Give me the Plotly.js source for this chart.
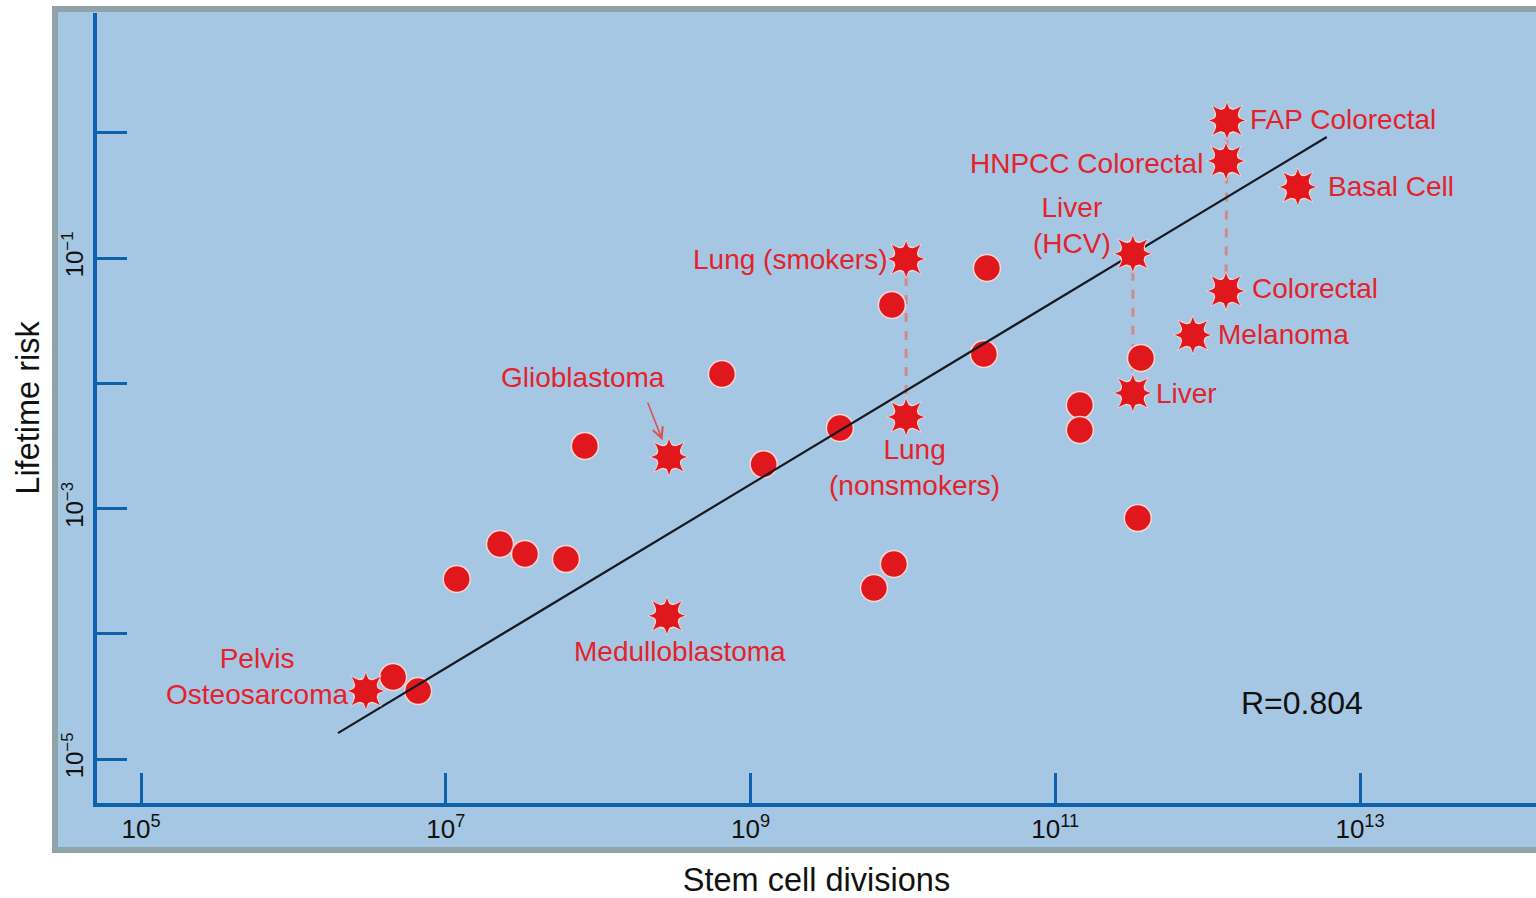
<!DOCTYPE html>
<html>
<head>
<meta charset="utf-8">
<script src="https://cdn.plot.ly/plotly-3.0.1.min.js"></script>
<style>
html,body{margin:0;padding:0;background:#fff;}
#chart{width:1536px;height:898px;}
</style>
</head>
<body>
<div id="chart"></div>
<script>
// ---- data ----
// labelled cancer types (star markers)
const starNames = ["Pelvis<br>Osteosarcoma", "Glioblastoma", "Medulloblastoma", "Lung (smokers)", "Lung<br>(nonsmokers)",
                   "Liver<br>(HCV)", "Liver", "FAP Colorectal", "HNPCC Colorectal", "Colorectal", "Basal Cell", "Melanoma"];
const starDivisions = [2.99e6, 2.92e8, 2.83e8, 1.05e10, 1.05e10, 3.23e11, 3.23e11, 1.34e12, 1.32e12, 1.32e12, 3.91e12, 8.0e11];
const starRisk      = [3.49e-5, 2.58e-3, 1.39e-4, 0.098, 5.38e-3, 0.108, 8.36e-3, 1.25, 0.594, 0.0546, 0.369, 0.0243];

// unlabelled cancer types (round markers)
const dotDivisions = [4.51e6, 6.58e6, 1.18e7, 2.27e7, 3.31e7, 6.15e7, 8.18e7, 6.49e8, 1.22e9, 3.86e9,
                      6.46e9, 8.73e9, 8.47e9, 3.56e10, 3.40e10, 1.45e11, 1.45e11, 3.65e11, 3.48e11];
const dotRisk      = [4.52e-5, 3.49e-5, 2.74e-4, 5.21e-4, 4.34e-4, 3.95e-4, 3.16e-3, 0.01186, 2.26e-3, 4.40e-3,
                      2.32e-4, 3.61e-4, 0.0422, 0.0832, 0.01714, 6.70e-3, 4.24e-3, 0.0159, 8.39e-4];

// regression line end points
const fitDivisions = [1.96e6, 6.05e12];
const fitRisk      = [1.61e-5, 0.925];

// pairs of the same tissue joined by a dashed line (indices into the star arrays)
const linkedPairs = [[3, 4], [5, 6], [7, 9]];

const correlationText = "R=0.804";

// axis ticks
const xTickVals = [1e5, 1e7, 1e9, 1e11, 1e13];
const xTickText = ["10<sup>5</sup>", "10<sup>7</sup>", "10<sup>9</sup>", "10<sup>11</sup>", "10<sup>13</sup>"];
const yTickVals = [0.1, 0.001, 1e-5];
const yTickText = ["10<sup>\u22121</sup>", "10<sup>\u22123</sup>", "10<sup>\u22125</sup>"];
const yMinorTickVals = [1, 0.01, 1e-4];

// ---- styles ----
const RED = "#e0171c";
const LABEL_RED = "#e4222b";
const HALO = "#f6d6d3";
const AXIS_BLUE = "#0d62ad";
const PANEL = "#a6c7e3";
const FONT = "Liberation Sans, Arial, sans-serif";

// label placement (pixel offsets relative to each star)
const starLabelStyle = [
  {xanchor: "right", xshift: -16, yshift: 15},
  {xanchor: "center", xshift: -86, yshift: 79},
  {xanchor: "center", xshift: 13, yshift: -36},
  {xanchor: "right", xshift: -16, yshift: 0},
  {xanchor: "center", xshift: 8, yshift: -51},
  {xanchor: "right", xshift: -20, yshift: 28},
  {xanchor: "left", xshift: 21, yshift: 0},
  {xanchor: "left", xshift: 21, yshift: 1},
  {xanchor: "right", xshift: -21, yshift: -2},
  {xanchor: "left", xshift: 24, yshift: 2},
  {xanchor: "left", xshift: 28, yshift: 0},
  {xanchor: "left", xshift: 23, yshift: 0}
];

const traces = [];

// dashed connectors
linkedPairs.forEach(p => {
  traces.push({
    type: "scatter", mode: "lines",
    x: [starDivisions[p[0]], starDivisions[p[1]]],
    y: [starRisk[p[0]], starRisk[p[1]]],
    line: {color: "#cf8b8b", width: 3, dash: "dash"},
    hoverinfo: "skip", showlegend: false
  });
});

// round markers
traces.push({
  type: "scatter", mode: "markers",
  x: dotDivisions, y: dotRisk,
  marker: {symbol: "circle", size: 27, color: RED, line: {color: HALO, width: 1.5}},
  hoverinfo: "skip", showlegend: false
});

// regression line
traces.push({
  type: "scatter", mode: "lines",
  x: fitDivisions, y: fitRisk,
  line: {color: "#151a22", width: 2.2},
  hoverinfo: "skip", showlegend: false
});

// star markers: 8-pointed burst built from overlaid symbols
[["star-square", 29, HALO], ["star-diamond", 29, HALO], ["circle", 27, HALO],
 ["star-square", 26, RED], ["star-diamond", 26, RED], ["circle", 24, RED]].forEach(s => {
  traces.push({
    type: "scatter", mode: "markers",
    x: starDivisions, y: starRisk,
    marker: {symbol: s[0], size: s[1], color: s[2], line: {width: 0}},
    hoverinfo: "skip", showlegend: false
  });
});

const annotations = starNames.map((name, i) => ({
  x: Math.log10(starDivisions[i]), y: Math.log10(starRisk[i]),
  xref: "x", yref: "y",
  text: name, showarrow: false,
  xanchor: starLabelStyle[i].xanchor, yanchor: "middle", align: "center",
  xshift: starLabelStyle[i].xshift, yshift: starLabelStyle[i].yshift,
  font: {family: FONT, size: 28, color: LABEL_RED}
}));

// arrow pointing at Glioblastoma
annotations.push({
  x: Math.log10(starDivisions[1]), y: Math.log10(starRisk[1]),
  xref: "x", yref: "y", text: "", showarrow: true,
  axref: "pixel", ayref: "pixel", ax: -22, ay: -56,
  standoff: 18, arrowhead: 5, arrowsize: 1.3, arrowwidth: 1.6, arrowcolor: "#d9534f"
});

// correlation text
annotations.push({
  x: 0.8374, y: 0.1266, xref: "paper", yref: "paper",
  text: correlationText, showarrow: false, xanchor: "center", yanchor: "middle",
  font: {family: FONT, size: 32, color: "#111"}
});

const plotW = 1536 - 97, plotH = 803 - 13;
const layout = {
  width: 1536, height: 898, autosize: false,
  margin: {l: 97, r: 0, t: 13, b: 95, pad: 0},
  paper_bgcolor: "#ffffff",
  plot_bgcolor: PANEL,
  font: {family: FONT, color: "#111"},
  showlegend: false,
  hovermode: false,
  xaxis: {
    type: "log", range: [4.711, 14.155], autorange: false,
    showline: true, linecolor: AXIS_BLUE, linewidth: 4,
    ticks: "inside", ticklen: 30, tickwidth: 3, tickcolor: AXIS_BLUE,
    tickmode: "array", tickvals: xTickVals, ticktext: xTickText,
    tickfont: {family: FONT, size: 26, color: "#111"},
    showgrid: false, zeroline: false, automargin: false,
    title: {text: "Stem cell divisions", font: {family: FONT, size: 32.5, color: "#111"}, standoff: 33}
  },
  yaxis: {
    type: "log", range: [-5.351, 0.956], autorange: false,
    showline: true, linecolor: AXIS_BLUE, linewidth: 4,
    ticks: "inside", ticklen: 30, tickwidth: 3, tickcolor: AXIS_BLUE,
    tickmode: "array", tickvals: yTickVals, ticktext: yTickText, tickangle: -90,
    minor: {tickmode: "array", tickvals: yMinorTickVals, ticks: "inside", ticklen: 30, tickwidth: 3,
            tickcolor: AXIS_BLUE, showgrid: false},
    tickfont: {family: FONT, size: 24, color: "#111"},
    showgrid: false, zeroline: false, automargin: false,
    title: {text: "Lifetime risk", font: {family: FONT, size: 32.5, color: "#111"}, standoff: 10}
  },
  shapes: [{
    type: "rect", xref: "paper", yref: "paper", layer: "below",
    x0: (55 - 97) / plotW, x1: (1545 - 97) / plotW,
    y0: (803 - 850) / plotH, y1: (803 - 9) / plotH,
    fillcolor: PANEL, line: {color: "#8fa3a8", width: 6}
  }],
  annotations: annotations
};

Plotly.newPlot("chart", traces, layout, {displayModeBar: false, staticPlot: true});
</script>
</body>
</html>
